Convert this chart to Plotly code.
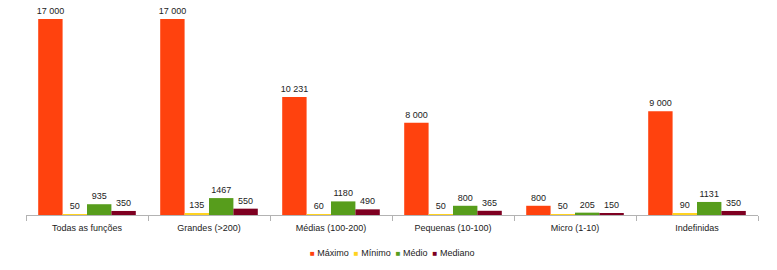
import plotly.graph_objects as go

categories = ["Todas as funções", "Grandes (>200)", "Médias (100-200)",
              "Pequenas (10-100)", "Micro (1-10)", "Indefinidas"]
maximo = [17000, 17000, 10231, 8000, 800, 9000]
minimo = [50, 135, 60, 50, 50, 90]
medio = [935, 1467, 1180, 800, 205, 1131]
mediano = [350, 550, 490, 365, 150, 350]

series = [
    ("Máximo", maximo, "#ff420e"),
    ("Mínimo", minimo, "#ffd320"),
    ("Médio", medio, "#579d1c"),
    ("Mediano", mediano, "#7e0021"),
]


def fmt(v):
    return f"{v:,}".replace(",", " ") if v >= 5000 else str(v)


FONT = "Liberation Sans, Arial, sans-serif"

fig = go.Figure()
for name, vals, color in series:
    fig.add_trace(go.Bar(
        name=name, x=categories, y=vals,
        marker=dict(color=color, line=dict(width=0)),
        text=[fmt(v) for v in vals], textposition="outside",
        textangle=0, constraintext="none",
        textfont=dict(family=FONT, size=9, color="#222222"),
        cliponaxis=False, showlegend=False,
    ))

legend_html = "&nbsp;&nbsp;".join(
    f'<span style="color:{c};font-size:8px">■</span>&nbsp;{n}' for n, _, c in series
)
fig.add_annotation(
    text=legend_html, xref="paper", yref="paper", x=0.5, y=-0.194,
    xanchor="center", yanchor="middle", showarrow=False,
    font=dict(family=FONT, size=9, color="#222222"),
)

fig.update_layout(
    width=777, height=270,
    margin=dict(l=26, r=19, t=19, b=55, autoexpand=False),
    barmode="group", bargap=0.2, bargroupgap=0,
    plot_bgcolor="white", paper_bgcolor="white",
    font=dict(family=FONT, size=9, color="#222222"),
    showlegend=False,
    xaxis=dict(showline=True, linecolor="#b3b3b3", linewidth=1,
               ticks="outside", tickson="boundaries", ticklen=5,
               tickcolor="#b3b3b3", showgrid=False, ticklabelstandoff=4,
               tickfont=dict(family=FONT, size=9, color="#222222")),
    yaxis=dict(range=[0, 17000], visible=False, showgrid=False),
)

fig.write_html("out.html")
